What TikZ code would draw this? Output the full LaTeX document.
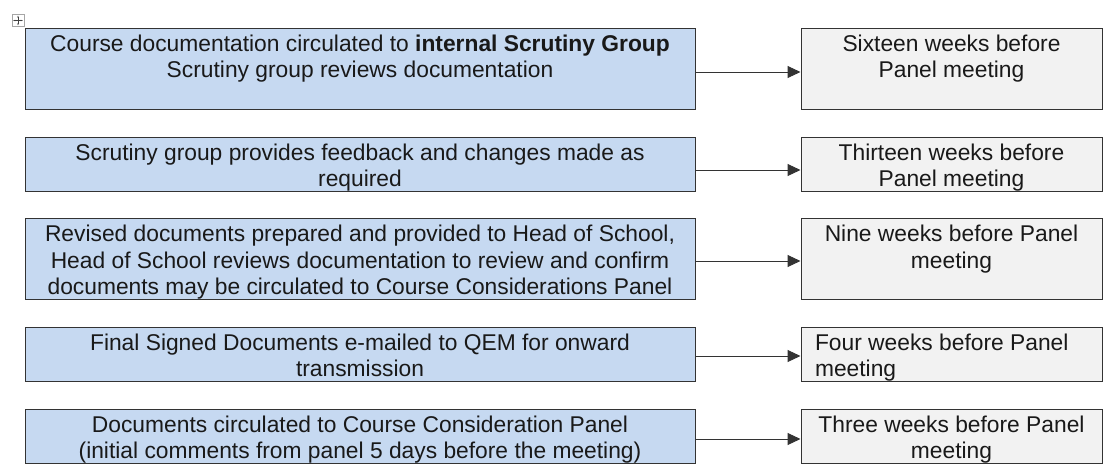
\documentclass[tikz,border=0pt]{standalone}
\usepackage{fontspec}
\setmainfont{Liberation Sans}
\usetikzlibrary{arrows.meta}

\definecolor{stageblue}{HTML}{C6D9F1}
\definecolor{deadlinegray}{HTML}{F2F2F2}

% cell text: height, width, alignment, text (top aligned)
\newcommand{\celltext}[4]{\parbox[c][#1][t]{#2}{#3\vspace*{5pt}\strut#4\par}}

\begin{document}
\begin{tikzpicture}[x=1pt, y=-1pt, flow/.style={-{Triangle[length=13pt, width=12pt]}, draw=black!80, line width=1pt}]
	\tikzstyle{stage} = [rectangle, draw=black!80, line width=1pt, fill=stageblue, inner sep=0pt, text=black!90, font=\fontsize{22.8}{26.3}\selectfont]
	\tikzstyle{deadline} = [stage, fill=deadlinegray]
	\useasboundingbox (0,0) rectangle (1103,464);

	% table handle
	\node[draw=gray!70, line width=0.6pt, fill=white, minimum width=12pt, minimum height=12pt, inner sep=0pt] (handle) at (18,20.5) {};
	\draw[gray!50!black, line width=0.6pt, {Stealth[length=2pt]}-{Stealth[length=2pt]}] ([xshift=1.5pt]handle.west) -- ([xshift=-1.5pt]handle.east);
	\draw[gray!50!black, line width=0.6pt, {Stealth[length=2pt]}-{Stealth[length=2pt]}] ([yshift=-1.5pt]handle.north) -- ([yshift=1.5pt]handle.south);

	% stages
	\node[stage] (s1) at (360,68.5) {\celltext{81pt}{670pt}{\centering}{Course documentation circulated to \textbf{internal Scrutiny Group}\\ Scrutiny group reviews documentation}};
	\node[stage] (s2) at (360,164) {\celltext{54pt}{670pt}{\centering}{Scrutiny group provides feedback and changes made as\\ required}};
	\node[stage] (s3) at (360,259) {\celltext{81pt}{670pt}{\centering}{Revised documents prepared and provided to Head of School,\\ Head of School reviews documentation to review and confirm\\ documents may be circulated to Course Considerations Panel}};
	\node[stage] (s4) at (360,354) {\celltext{54pt}{670pt}{\centering}{Final Signed Documents e-mailed to QEM for onward\\ transmission}};
	\node[stage] (s5) at (360,436) {\celltext{54pt}{670pt}{\centering}{Documents circulated to Course Consideration Panel\\ (initial comments from panel 5 days before the meeting)}};

	% deadlines
	\node[deadline] (d1) at (951.5,68.5) {\celltext{81pt}{301pt}{\centering}{Sixteen weeks before\\ Panel meeting}};
	\node[deadline] (d2) at (951.5,164) {\celltext{54pt}{301pt}{\centering}{Thirteen weeks before\\ Panel meeting}};
	\node[deadline] (d3) at (951.5,259) {\celltext{81pt}{301pt}{\centering}{Nine weeks before Panel\\ meeting}};
	\node[deadline] (d4) at (951.5,354) {\celltext{54pt}{301pt}{\raggedright\leftskip=14pt}{Four weeks before Panel\\ meeting}};
	\node[deadline] (d5) at (951.5,436) {\celltext{54pt}{301pt}{\centering}{Three weeks before Panel\\ meeting}};

	\foreach \row/\drop in {1/3.5, 2/6, 3/2, 4/2, 5/3}
		\draw[flow] ([yshift=-\drop pt]s\row.east) -- ([yshift=-\drop pt]d\row.west);
\end{tikzpicture}
\end{document}
